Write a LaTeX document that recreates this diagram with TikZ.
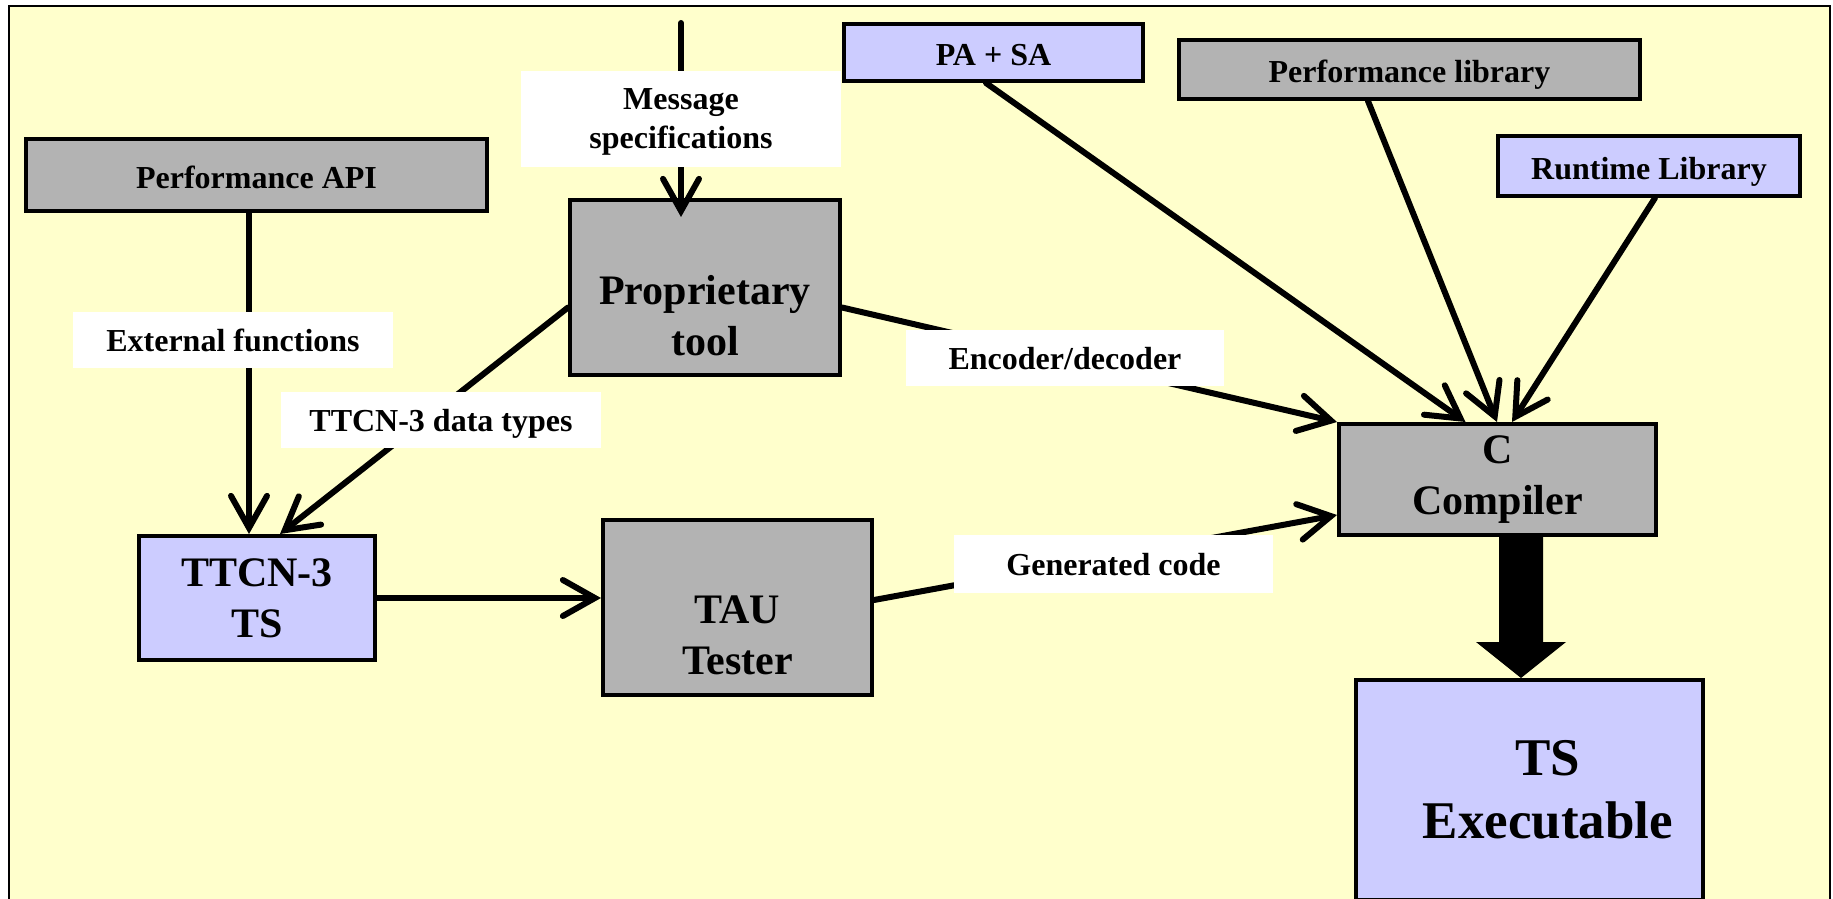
\documentclass[tikz,border=0pt]{standalone}
\usepackage{fontspec}
\setmainfont{Liberation Serif}
\usetikzlibrary{arrows.meta,calc}
\definecolor{paper}{HTML}{FFFFCC}
\definecolor{boxgray}{HTML}{B3B3B3}
\definecolor{boxblue}{HTML}{CCCCFF}
\newcommand{\smallfont}{\fontsize{16}{19.5}\selectfont\bfseries}
\newcommand{\bigfont}{\fontsize{21}{25.5}\selectfont\bfseries}
\newcommand{\hugefont}{\fontsize{26.5}{31.5}\selectfont\bfseries}
\begin{document}
\begin{tikzpicture}[x=0.5pt,y=-0.5pt,
    box/.style={draw,line width=2pt,inner sep=0pt,align=center,font=\smallfont},
    graybox/.style={box,fill=boxgray},
    bluebox/.style={box,fill=boxblue},
    slim/.style={text height=13.5pt,text depth=0pt},
    tag/.style={fill=white,inner sep=0pt,align=center,font=\smallfont,text depth=0pt},
    conn/.style={-{Straight Barb[length=16pt,width=18pt,line cap=round]},line width=3pt,line cap=round}]
    \useasboundingbox (0,0) rectangle (1833,899);
    \fill[paper] (8.6,6) rectangle (1830,905);
    \draw[line width=1pt] (8.6,905)--(8.6,6)--(1830,6)--(1830,905);
    \node[graybox,slim,minimum width=230.5pt,minimum height=36pt] (perfapi) at (256.5,175) {Performance API};
    \node[graybox,minimum width=135pt,minimum height=87.5pt] (prop) at (705,287.5) {};
    \node[font=\bigfont,align=center] (proptxt) at (705,315.5) {Proprietary\\tool};
    \node[bluebox,minimum width=118pt,minimum height=62pt,font=\bigfont] (ttcnts) at (257,598) {TTCN-3\\TS};
    \node[graybox,minimum width=134.5pt,minimum height=87.5pt] (tau) at (737.5,607.5) {};
    \node[font=\bigfont,align=center] (tautxt) at (737.5,635.5) {TAU\\Tester};
    \node[bluebox,slim,minimum width=149.5pt,minimum height=28.5pt] (pasa) at (993.5,52.5) {PA + SA};
    \node[graybox,slim,minimum width=230.5pt,minimum height=29.5pt] (perflib) at (1409.5,69.5) {Performance library};
    \node[bluebox,slim,minimum width=151pt,minimum height=30pt] (runtime) at (1649,166) {Runtime Library};
    \node[graybox,minimum width=158.5pt,minimum height=55.5pt,font=\bigfont] (comp) at (1497.5,479.5) {C\\Compiler};
    \node[bluebox,minimum width=173.5pt,minimum height=110pt] (tsexe) at (1529.5,790) {};
    \node[font=\hugefont,align=center] (tsexetxt) at (1548,790) {TS\\Executable};
    \coordinate (msgtop) at (681,23);
    \draw[conn] (msgtop)--($(msgtop |- prop.north)+(0,19)$);
    \draw[conn] ([xshift=-3.75pt]perfapi.south)--([xshift=-4pt]ttcnts.north);
    \draw[conn] ([yshift=-10pt]prop.west)--([xshift=11.5pt]ttcnts.north);
    \draw[conn] (ttcnts.east)--(ttcnts.east -| tau.west);
    \draw[conn] ([yshift=-10pt]prop.east)--(comp.north west);
    \draw[conn] ([yshift=3.75pt]tau.east)--([yshift=-17.75pt]comp.west);
    \draw[conn] ([xshift=-3.75pt]pasa.south)--([xshift=-16pt]comp.north);
    \draw[conn] ([xshift=-20.75pt]perflib.south)--([xshift=-0.25pt]comp.north);
    \draw[conn] ([xshift=3pt]runtime.south)--([xshift=7.25pt]comp.north);
    \node[tag,minimum width=160pt,minimum height=48pt] (msg) at (681,119) {Message\\specifications};
    \node[tag,minimum width=160pt,minimum height=28pt] (extfun) at (233,340) {External functions};
    \node[tag,minimum width=160pt,minimum height=28pt] (ttcndata) at (441,420) {TTCN-3 data types};
    \node[tag,minimum width=159pt,minimum height=28pt] (encdec) at (1065,358) {Encoder/decoder};
    \node[tag,minimum width=159.5pt,minimum height=29pt] (gencode) at (1113.5,564) {Generated code};
    \coordinate (fat) at ($(comp.south)+(23.5,0)$);
    \fill ($(fat)+(-22,-4)$)--($(fat)+(22,-4)$)--($(fat)+(22,105)$)--($(fat)+(45,105)$)
        --(tsexe.north -| fat)--($(fat)+(-45,105)$)--($(fat)+(-22,105)$)--cycle;
\end{tikzpicture}
\end{document}
